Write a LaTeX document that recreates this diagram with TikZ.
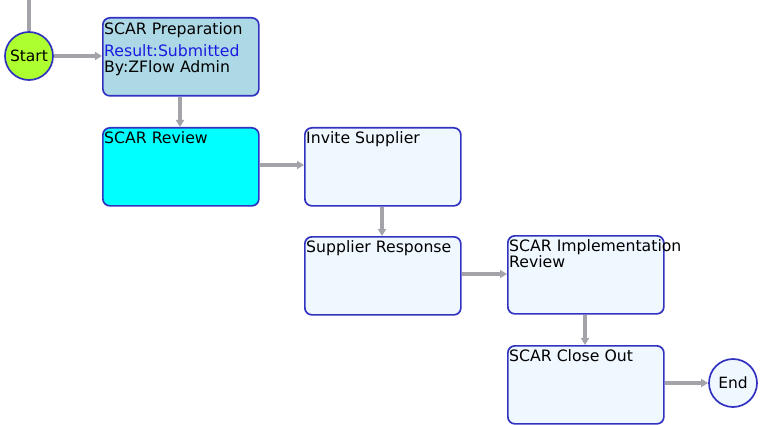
\documentclass[tikz,border=0pt]{standalone}
\usepackage{fontspec}
\setmainfont{DejaVu Sans}
\usetikzlibrary{arrows.meta}
\definecolor{bord}{HTML}{3232C0}
\definecolor{arr}{HTML}{A3A3AA}
\definecolor{prepfill}{HTML}{ADD8E6}
\definecolor{revfill}{HTML}{00FFFF}
\definecolor{alice}{HTML}{F0F8FF}
\definecolor{startfill}{HTML}{ADFF2F}
\definecolor{resblue}{HTML}{1A1AE0}
\begin{document}
\begin{tikzpicture}[x=1pt,y=-1pt,
  stepbox/.style={draw=bord,line width=1.7pt,rounded corners=7pt,minimum width=156pt,minimum height=78pt,anchor=north west,inner sep=0pt,fill=alice},
  endpt/.style={circle,draw=bord,line width=1.7pt,minimum size=48pt,inner sep=0pt,font=\fontsize{15.5}{16}\selectfont},
  lbl/.style={anchor=north west,inner sep=0pt,align=left,font=\fontsize{15.7}{16}\selectfont},
  conn/.style={draw=arr,line width=3.2pt,-{Triangle[length=7pt,width=8pt]}}]
\useasboundingbox (0,0) rectangle (760,425);
\node[endpt,fill=startfill] (start) at (29,56) {Start};
\coordinate (top) at (29,0);
\node[stepbox,fill=prepfill] (prep) at (102,17) {};
\node[stepbox,fill=revfill] (rev) at (102,127) {};
\node[stepbox] (inv) at (304,127) {};
\node[stepbox] (resp) at (304,236) {};
\node[stepbox] (impl) at (507,235) {};
\node[stepbox] (close) at (507,345) {};
\node[endpt,fill=alice] (end) at (733,383) {End};
\node[lbl] (prepl) at (104,22) {SCAR Preparation};
\node[lbl,text=resblue] (prepr) at (104,44) {Result:Submitted};
\node[lbl] (prepb) at (104,60) {By:ZFlow Admin};
\node[lbl] (revl) at (104,131) {SCAR Review};
\node[lbl] (invl) at (306,131) {Invite Supplier};
\node[lbl] (respl) at (306,240) {Supplier Response};
\node[lbl] (impll) at (509,239) {SCAR Implementation};
\node[lbl] (impl2) at (509,255) {Review};
\node[lbl] (closel) at (509,349) {SCAR Close Out};
\draw[draw=arr,line width=3.2pt] (top) -- (start.north);
\draw[conn] (start.east) -- (start.east -| prep.west);
\draw[conn] (prep.south -| 180,0) -- (180,127);
\draw[conn] (rev.east |- 0,165) -- (inv.west |- 0,165);
\draw[conn] (inv.south -| 382,0) -- (382,236);
\draw[conn] (resp.east |- 0,274) -- (impl.west |- 0,274);
\draw[conn] (impl.south -| 585,0) -- (585,345);
\draw[conn] (close.east |- end.west) -- (end.west);
\end{tikzpicture}
\end{document}
